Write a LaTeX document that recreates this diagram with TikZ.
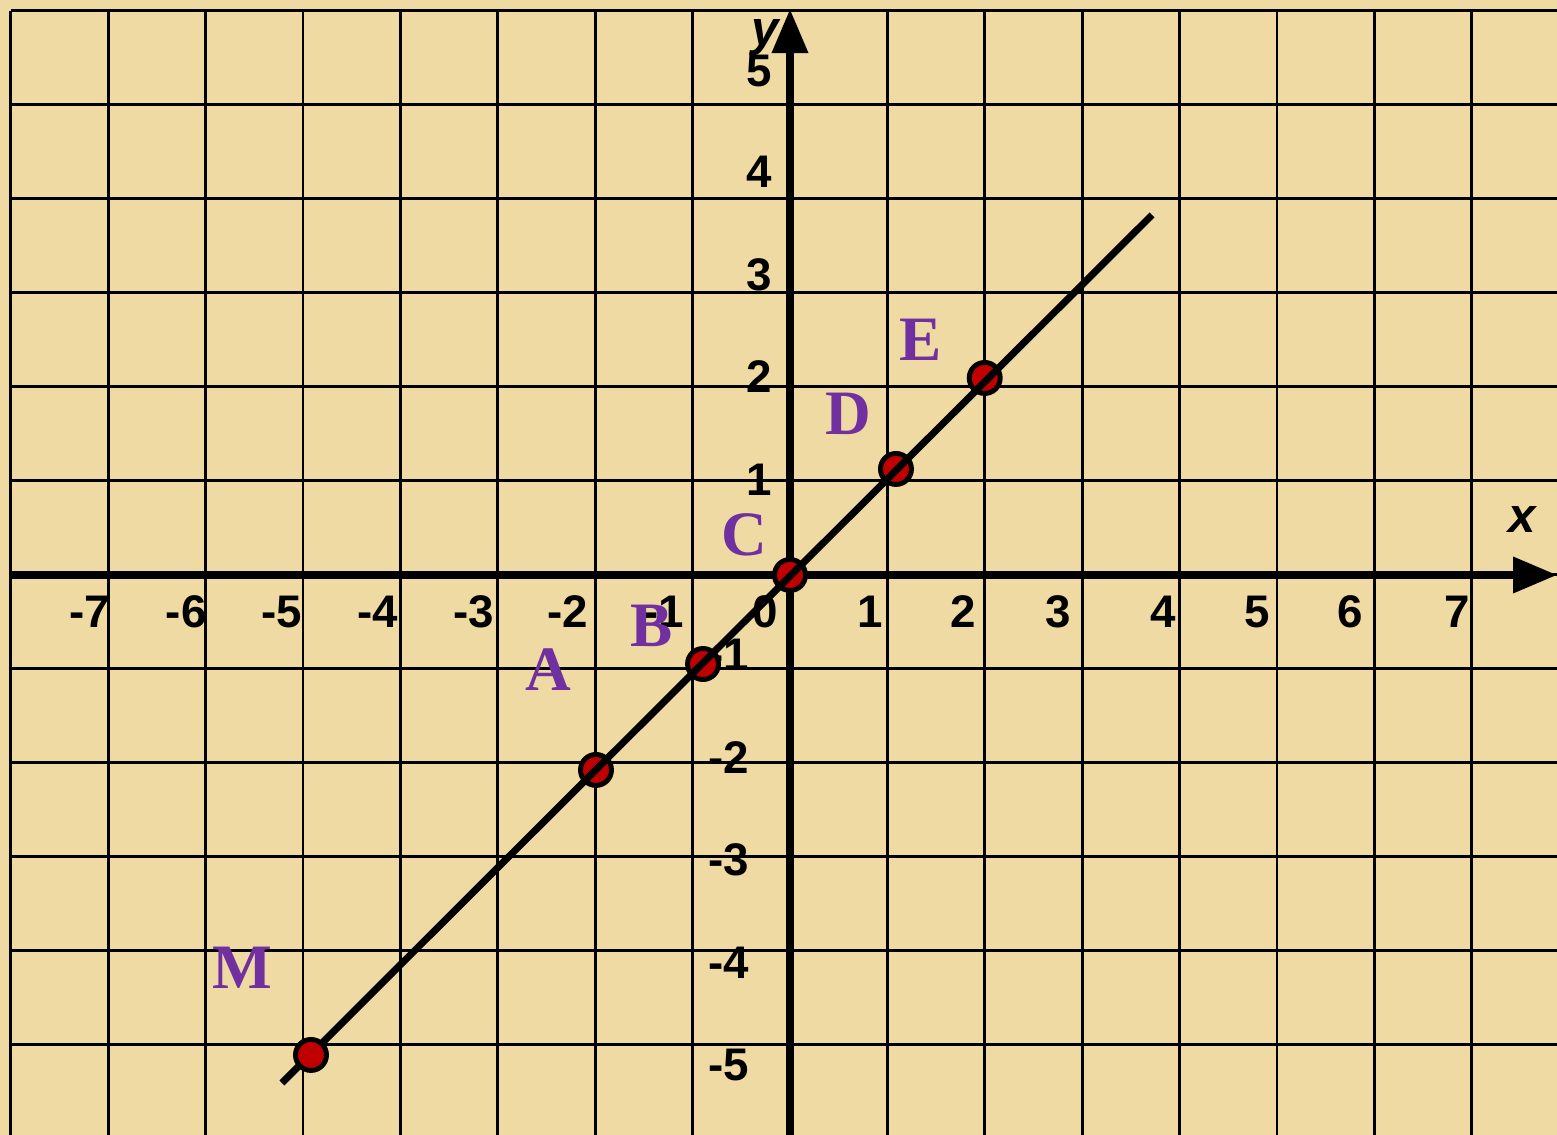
\documentclass[tikz,border=0pt]{standalone}
\usepackage{fontspec}
\newfontfamily\axfont{Liberation Sans}
\newfontfamily\ptfont{Liberation Serif}
\usepackage{tikz}
\usetikzlibrary{arrows.meta}
\usepackage{xcolor}
\definecolor{paper}{RGB}{239,218,163}
\definecolor{ptred}{RGB}{192,0,0}
\definecolor{ltrpurple}{RGB}{112,48,160}

\begin{document}
\begin{tikzpicture}[
    x=0.974cm, y=0.94cm,
    gridline/.style={line width=0.85pt, black},
    ax/.style={-{Triangle[length=0.44cm, width=0.35cm]}, line width=2pt, black},
    graph/.style={line width=2pt, black},
    dot/.style={circle, fill=ptred, draw=black, line width=1.4pt, minimum size=0.31cm, inner sep=0pt},
    num/.style={font=\axfont\bfseries\fontsize{13}{15}\selectfont, inner sep=0pt},
    axlbl/.style={font=\axfont\bfseries\itshape\fontsize{14}{16}\selectfont, inner sep=0pt},
    ptlbl/.style={font=\ptfont\bfseries\fontsize{18}{20}\selectfont, text=ltrpurple, inner sep=0pt},
]
\fill[paper] (-8.111,-5.957) rectangle (7.875,6.117);
\useasboundingbox (-8.111,-5.957) rectangle (7.875,6.117);
\foreach \i in {-8,...,7}
    \draw[gridline] (\i,6) -- (\i,-5.957);
\foreach \j in {-5,...,6}
    \draw[gridline] (-8,\j) -- (7.875,\j);

\coordinate (xs) at (-7.99,0);
\coordinate (xe) at (7.875,0);
\coordinate (ys) at (0,-5.957);
\coordinate (ye) at (0,6.02);
\draw[ax] (xs) -- (xe);
\draw[ax] (ys) -- (ye);
\node[axlbl] (xlbl) at (7.515,0.585) {x};
\node[axlbl] (ylbl) at (-0.257,5.72) {y};

\foreach \v/\p in {-7/-7.19,-6/-6.20,-5/-5.22,-4/-4.23,-3/-3.25,-2/-2.28,-1/-1.30,
    0/-0.25,1/0.82,2/1.78,3/2.75,4/3.83,5/4.80,6/5.75,7/6.85}
    \node[num] (xl\v) at (\p,-0.39) {\v};
\foreach \v/\p in {5/5.36,4/4.287,3/3.19,2/2.106,1/1.01}
    \node[num, anchor=east] (yl\v) at (-0.175,\p) {\v};
\foreach \v/\p in {-1/-0.85,-2/-1.94,-3/-3.03,-4/-4.13,-5/-5.21}
    \node[num, anchor=east] (yl\v) at (-0.41,\p) {\v};

\node[dot] (A) at (-1.992,-2.074) {};
\node[dot] (B) at (-0.893,-0.947) {};
\node[dot] (C) at (0,0) {};
\node[dot] (D) at (1.088,1.128) {};
\node[dot] (E) at (1.999,2.096) {};
\coordinate (lo) at (-5.216,-5.404);
\coordinate (hi) at (3.717,3.830);
\draw[graph] (lo) -- (hi);
\node[dot] (M) at (-4.918,-5.106) {};

\node[ptlbl] (lA) at (-2.485,-1.011) {A};
\node[ptlbl] (lB) at (-1.417,-0.543) {B};
\node[ptlbl] (lC) at (-0.472,0.426) {C};
\node[ptlbl] (lD) at (0.595,1.713) {D};
\node[ptlbl] (lE) at (1.345,2.50) {E};
\node[ptlbl] (lM) at (-5.626,-4.181) {M};
\end{tikzpicture}
\end{document}
